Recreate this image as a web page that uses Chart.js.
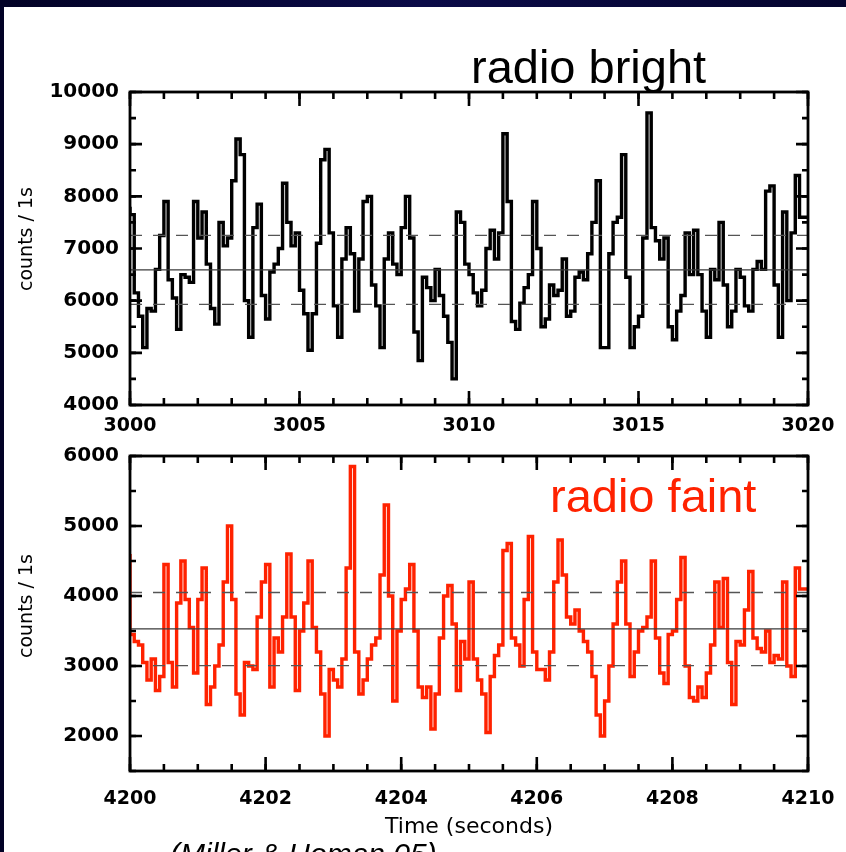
<!DOCTYPE html>
<html><head><meta charset="utf-8">
<script src="https://cdn.jsdelivr.net/npm/chart.js@4.4.0/dist/chart.umd.min.js"></script>
<style>
html,body{margin:0;padding:0;width:846px;height:852px;overflow:hidden;background:linear-gradient(90deg,#020226,#0b0b48 50%,#05052e);}
#panel{position:absolute;left:4px;top:7px;right:0;bottom:0;background:#fff;}
canvas{position:absolute;left:0;top:0;}
.t{position:absolute;white-space:nowrap;line-height:1;}
.rot{position:absolute;white-space:nowrap;line-height:1;transform:translate(-50%,-50%) rotate(-90deg);font-family:'DejaVu Sans',sans-serif;font-size:19px;color:#000;}
</style></head><body>
<div id="panel"></div>
<canvas id="c1" width="846" height="852"></canvas>
<canvas id="c2" width="846" height="852"></canvas>
<div class="t" style="left:471px;top:43px;font-family:'Liberation Sans',Arial,sans-serif;font-size:47px;color:#000;">radio bright</div>
<div class="t" style="left:550px;top:472px;font-family:'Liberation Sans',Arial,sans-serif;font-size:47px;color:#ff2200;">radio faint</div>
<div class="rot" style="left:25px;top:239px;">counts / 1s</div>
<div class="rot" style="left:25px;top:606px;">counts / 1s</div>
<div class="t" style="left:469px;top:815px;transform:translateX(-50%);font-family:'DejaVu Sans',sans-serif;font-size:22px;color:#000;">Time (seconds)</div>
<div class="t" style="left:170px;top:839px;font-family:'Liberation Sans',Arial,sans-serif;font-style:italic;font-size:30px;color:#000;">(Miller &amp; Homan 05)</div>
<script>
// ---------- data ----------
const topStart = 3000, topBin = 0.125;
const topCounts = [
7800,7650,6150,5700,5100,5850,5800,6600,7250,7900,
6400,6050,5450,6500,6450,6350,7900,7200,7700,6700,
5850,5550,7500,7050,7200,8300,9100,8800,6000,5300,
7400,7850,6100,5650,6550,6700,7000,8250,7500,7050,
7300,6200,5750,5050,5750,7100,8700,8900,7300,5900,
5300,6800,7400,6900,5800,6800,7900,8000,6300,5900,
5100,6800,7300,6700,6500,7400,8000,7200,5400,4850,
6450,6250,6000,6600,6100,5700,5200,4500,7700,7500,
6700,6500,6150,5900,6200,7000,7350,6800,7300,9200,
7900,5600,5450,5950,6250,6500,7900,7000,5500,5650,
6300,6100,6200,6800,5700,5800,6450,6550,6400,6900,
7500,8300,5100,5100,6900,7500,7600,8800,6450,5100,
5500,5700,7200,9600,7400,7150,6800,7200,5500,5250,
5800,6100,7300,6500,7350,6500,5800,5300,6600,6400,
7500,6300,5500,5800,6600,6450,5900,5800,6600,6750,
6600,8100,8200,6300,5300,7700,6000,7300,8400,7600];
const topLevels = [6590, 7250, 5930]; // mean, upper dashed, lower dashed
const topXTicks = [3000, 3005, 3010, 3015, 3020];
const topYTicks = [4000, 5000, 6000, 7000, 8000, 9000, 10000];

const botStart = 4200, botBin = 0.0625;
const botCounts = [
4600,3450,3350,3300,3050,2800,3100,2650,2850,4450,
3050,2700,3900,4500,3950,3550,2900,3950,4400,2450,
2700,3000,3300,4200,5000,3950,2600,2300,3050,3000,
2950,3700,4200,4450,2700,3400,3200,3700,4600,3700,
2650,3500,3900,4500,3550,3200,2600,2000,2950,2800,
2700,3100,4400,5850,3200,2600,2800,3100,3300,3400,
4300,5300,4000,2500,3500,3950,4100,4450,3500,2700,
2550,2700,2100,2600,3400,4000,4150,3600,2650,3350,
3100,4200,3100,2800,2600,2050,2850,3150,3300,4650,
4750,3400,3300,3000,3950,4850,3200,2950,2950,2800,
3200,4200,4800,4300,3700,3600,3800,3500,3350,3200,
2850,2300,2000,2500,3000,3600,4200,4500,3600,2850,
3200,3500,3550,3700,4500,3400,2900,2750,3450,3500,
3950,4550,3000,2550,2500,2700,2550,2900,3300,4200,
3550,4250,3050,2450,3350,3300,3800,4350,3400,3250,
3200,3500,3050,3150,3100,4200,3000,2850,4400,4100];
const botLevels = [3530, 4050, 3005];
const botXTicks = [4200, 4202, 4204, 4206, 4208, 4210];
const botYTicks = [2000, 3000, 4000, 5000, 6000];

// ---------- helpers ----------
function stepPoints(start, bin, counts) {
  const pts = counts.map((v, i) => ({x: start + i * bin, y: v}));
  pts.push({x: start + counts.length * bin, y: counts[counts.length - 1]});
  return pts;
}
function levelSets(levels, xmin, xmax) {
  return levels.map((v, i) => ({
    data: [{x: xmin, y: v}, {x: xmax, y: v}],
    borderColor: i === 0 ? '#3a3a3a' : '#555',
    borderWidth: 1.3,
    borderDash: i === 0 ? [] : [12, 11],
    pointRadius: 0, fill: false
  }));
}
function frameTicks(t, tag) {
  return {
    id: 'frameTicks' + tag,
    afterDraw(chart) {
      const ctx = chart.ctx, a = chart.chartArea;
      const x = chart.scales.x, y = chart.scales.y;
      ctx.save();
      ctx.strokeStyle = '#000';
      ctx.lineWidth = 2.6;
      ctx.lineCap = 'butt';
      ctx.setLineDash([]);
      const xs = (step, len) => {
        const n = Math.round((x.max - x.min) / step);
        for (let i = 0; i <= n; i++) {
          const p = x.getPixelForValue(x.min + i * step);
          ctx.beginPath();
          ctx.moveTo(p, a.bottom); ctx.lineTo(p, a.bottom - len);
          ctx.moveTo(p, a.top); ctx.lineTo(p, a.top + len);
          ctx.stroke();
        }
      };
      const ys = (step, len) => {
        const first = Math.ceil(y.min / step) * step;
        const n = Math.floor((y.max - first) / step + 1e-9);
        for (let i = 0; i <= n; i++) {
          const p = y.getPixelForValue(first + i * step);
          ctx.beginPath();
          ctx.moveTo(a.left, p); ctx.lineTo(a.left + len, p);
          ctx.moveTo(a.right, p); ctx.lineTo(a.right - len, p);
          ctx.stroke();
        }
      };
      xs(t.xMinor, 7); xs(t.xMajor, 14);
      ys(t.yMinor, 6); ys(t.yMajor, 12);
      ctx.lineWidth = 2.8;
      ctx.strokeRect(a.left, a.top, a.right - a.left, a.bottom - a.top);
      ctx.restore();
    }
  };
}
const xFont = {family: "'DejaVu Sans', sans-serif", size: 19, weight: 'bold'};
const yFont = {family: "'DejaVu Sans', sans-serif", size: 20, weight: 'bold'};
function makeChart(id, cfg) {
  return new Chart(document.getElementById(id), {
    type: 'line',
    data: {datasets: [
      ...levelSets(cfg.levels, cfg.xmin, cfg.xmax),
      {data: stepPoints(cfg.start, cfg.bin, cfg.counts), stepped: 'after',
       borderColor: cfg.color, borderWidth: 3.4, pointRadius: 0, fill: false, tension: 0}
    ]},
    options: {
      responsive: false, animation: false, events: [],
      layout: {padding: {left: 0, right: 38, top: cfg.top, bottom: 852 - cfg.bottom - 40}},
      plugins: {legend: {display: false}, tooltip: {enabled: false}},
      scales: {
        x: {type: 'linear', min: cfg.xmin, max: cfg.xmax,
          grid: {display: false, drawTicks: false}, border: {display: false},
          afterBuildTicks: s => { s.ticks = cfg.xTicks.map(v => ({value: v})); },
          afterFit: s => { s.height = 40; s.paddingLeft = 0; s.paddingRight = 0; },
          ticks: {autoSkip: false, maxRotation: 0, padding: cfg.xPad, color: '#000', font: xFont,
            callback: v => String(v)}},
        y: {type: 'linear', min: cfg.ymin, max: cfg.ymax,
          grid: {display: false, drawTicks: false}, border: {display: false},
          afterBuildTicks: s => { s.ticks = cfg.yTicks.map(v => ({value: v})); },
          afterFit: s => { s.width = 130; s.paddingTop = 0; s.paddingBottom = 0; },
          ticks: {autoSkip: false, padding: 11, color: '#000', font: yFont,
            callback: v => String(v)}}
      }
    },
    plugins: [frameTicks(cfg.ticks, cfg.tag)]
  });
}
makeChart('c1', {tag: 'A', levels: topLevels, xmin: 3000, xmax: 3020, ymin: 4000, ymax: 10000,
  start: topStart, bin: topBin, counts: topCounts, color: '#000',
  top: 92, bottom: 405, xPad: 10, xTicks: topXTicks, yTicks: topYTicks,
  ticks: {xMajor: 5, xMinor: 1, yMajor: 1000, yMinor: 500}});
makeChart('c2', {tag: 'B', levels: botLevels, xmin: 4200, xmax: 4210, ymin: 1500, ymax: 6000,
  start: botStart, bin: botBin, counts: botCounts, color: '#ff2200',
  top: 456, bottom: 771, xPad: 17, xTicks: botXTicks, yTicks: botYTicks,
  ticks: {xMajor: 2, xMinor: 0.5, yMajor: 1000, yMinor: 500}});
</script>
</body></html>
